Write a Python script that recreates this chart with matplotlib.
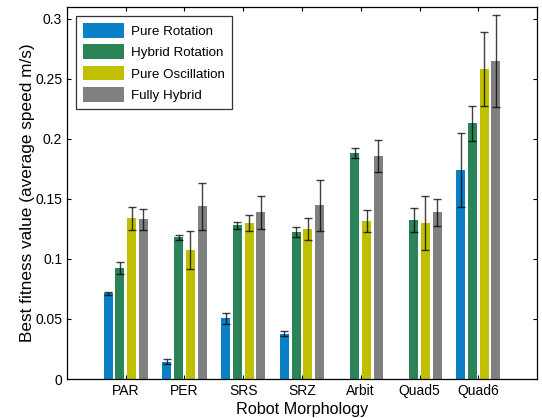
import matplotlib
matplotlib.use('Agg')
import matplotlib.pyplot as plt
import numpy as np

plt.rcParams['font.family'] = ['Liberation Sans', 'DejaVu Sans']

robots = ['PAR', 'PER', 'SRS', 'SRZ', 'Arbit', 'Quad5', 'Quad6']
series = ['Pure Rotation', 'Hybrid Rotation', 'Pure Oscillation', 'Fully Hybrid']
colors = ['#0b80c6', '#2b8358', '#c0c000', '#808080']

pure_rotation = [0.0715, 0.0145, 0.0505, 0.0378, np.nan, np.nan, 0.1742]
pure_rotation_err = [0.0012, 0.0020, 0.0045, 0.0022, np.nan, np.nan, 0.0310]
hybrid_rotation = [0.0925, 0.1180, 0.1280, 0.1222, 0.1880, 0.1325, 0.2130]
hybrid_rotation_err = [0.0050, 0.0024, 0.0030, 0.0042, 0.0042, 0.0100, 0.0146]
pure_oscillation = [0.1340, 0.1075, 0.1300, 0.1247, 0.1317, 0.1300, 0.2583]
pure_oscillation_err = [0.0095, 0.0157, 0.0068, 0.0092, 0.0093, 0.0227, 0.0306]
fully_hybrid = [0.1330, 0.1440, 0.1390, 0.1447, 0.1858, 0.1389, 0.2650]
fully_hybrid_err = [0.0085, 0.0197, 0.0138, 0.0210, 0.0132, 0.0114, 0.0385]

values = [pure_rotation, hybrid_rotation, pure_oscillation, fully_hybrid]
errors = [pure_rotation_err, hybrid_rotation_err, pure_oscillation_err, fully_hybrid_err]

fig = plt.figure(figsize=(5.42, 4.18), dpi=100)
ax = fig.add_axes([0.1236, 0.0933, 0.8672, 0.89])

x = np.arange(1, len(robots) + 1)
offsets = [-0.3, -0.1, 0.1, 0.3]
for vals, errs, col, off, name in zip(values, errors, colors, offsets, series):
    ax.bar(x + off, vals, width=0.155, color=col, label=name, zorder=2)
    ax.errorbar(x + off, vals, yerr=errs, fmt='none', ecolor='black', alpha=0.75,
                elinewidth=1.0, capsize=2.6, capthick=1.0, zorder=3)

ax.set_xlim(0, 8)
ax.set_ylim(0, 0.31)
ax.set_xticks(x)
ax.set_xticklabels(robots)
ax.set_yticks([0, 0.05, 0.1, 0.15, 0.2, 0.25, 0.3])
ax.set_yticklabels(['0', '0.05', '0.1', '0.15', '0.2', '0.25', '0.3'])
ax.tick_params(direction='in', top=True, right=True, labelsize=10, length=3, width=0.8)
for sp in ax.spines.values():
    sp.set_linewidth(0.9)

ax.set_xlabel('Robot Morphology', fontsize=11.7, labelpad=3)
ax.set_ylabel('Best fitness value (average speed m/s)', fontsize=12.4, labelpad=0)

leg = ax.legend(loc='upper left', fontsize=9.6, fancybox=False, edgecolor='black',
                handlelength=3.1, handleheight=1.3, labelspacing=0.5,
                borderaxespad=0.7, borderpad=0.5, handletextpad=0.5)
leg.get_frame().set_linewidth(0.9)

fig.savefig('out.png', dpi=100)
